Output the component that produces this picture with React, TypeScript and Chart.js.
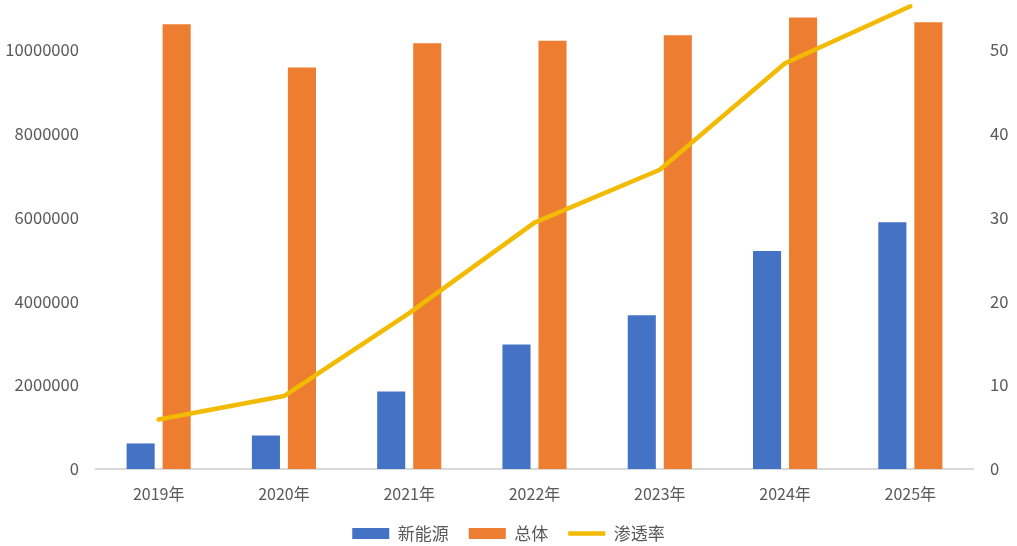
import React, { useEffect, useRef } from "react";
import { Chart, registerables } from "chart.js";

Chart.register(...registerables);

const years = ["2019年", "2020年", "2021年", "2022年", "2023年", "2024年", "2025年"];
const newEnergy = [610000, 800000, 1850000, 2970000, 3670000, 5200000, 5890000];
const total = [10610000, 9580000, 10160000, 10220000, 10350000, 10770000, 10660000];
const rate = [5.9, 8.7, 18.6, 29.4, 35.7, 48.4, 55.2];
const leftTicks = [0, 2000000, 4000000, 6000000, 8000000, 10000000];
const rightTicks = [0, 10, 20, 30, 40, 50];

const FONT = "'Noto Sans CJK SC', 'Noto Sans', sans-serif";

const App = () => {
  const chartRef: any = useRef(null);
  const chartInstance: any = useRef(null);

  useEffect(() => {
    document.body.style.margin = "0";
    if (chartRef.current) {
      const ctx = chartRef.current.getContext("2d");
      chartInstance.current = new Chart(ctx, {
        type: "bar",
        data: {
          labels: years,
          datasets: [
            {
              type: "line",
              label: "渗透率",
              data: rate,
              yAxisID: "y1",
              borderColor: "#F2BA00",
              backgroundColor: "#F2BA00",
              borderWidth: 4.5,
              borderCapStyle: "round",
              borderJoinStyle: "round",
              pointRadius: 0,
              pointStyle: "line",
              tension: 0,
              clip: false,
              order: 0,
            } as any,
            {
              label: "新能源",
              data: newEnergy,
              yAxisID: "y",
              backgroundColor: "#4472C4",
              pointStyle: "rect",
              categoryPercentage: 0.575,
              barPercentage: 0.78,
              order: 1,
            } as any,
            {
              label: "总体",
              data: total,
              yAxisID: "y",
              backgroundColor: "#ED7D31",
              pointStyle: "rect",
              categoryPercentage: 0.575,
              barPercentage: 0.78,
              order: 1,
            } as any,
          ],
        },
        options: {
          responsive: false,
          animation: false,
          layout: { padding: 0 },
          plugins: {
            tooltip: { enabled: false },
            legend: {
              position: "bottom",
              maxHeight: 41,
              labels: {
                usePointStyle: true,
                pointStyleWidth: 37,
                boxWidth: 37,
                boxHeight: 11,
                padding: 20,
                color: "#595959",
                font: { family: FONT, size: 17 },
                sort: (a: any, b: any) => {
                  const rank: any = { "新能源": 0, "总体": 1, "渗透率": 2 };
                  return rank[a.text] - rank[b.text];
                },
              },
            } as any,
          },
          scales: {
            x: {
              grid: { display: false, drawTicks: false },
              border: { display: true, color: "#D9D9D9", width: 2 },
              ticks: {
                color: "#595959",
                padding: 15,
                font: { family: FONT, size: 16 },
              },
              afterFit: (scale: any) => {
                scale.height = 36;
              },
            },
            y: {
              position: "left",
              min: 0,
              max: 11190000,
              grid: { display: false, drawTicks: false },
              border: { display: false },
              afterBuildTicks: (scale: any) => {
                scale.ticks = leftTicks.map((v) => ({ value: v }));
              },
              ticks: {
                padding: 17,
                color: "#595959",
                font: { family: FONT, size: 16.6 },
                callback: (v: any) => String(v),
              },
              afterFit: (scale: any) => {
                scale.width = 96;
                scale.paddingTop = 0;
                scale.paddingBottom = 0;
              },
            },
            y1: {
              position: "right",
              min: 0,
              max: 55.95,
              grid: { display: false, drawTicks: false },
              border: { display: false },
              afterBuildTicks: (scale: any) => {
                scale.ticks = rightTicks.map((v) => ({ value: v }));
              },
              ticks: {
                padding: 17,
                color: "#595959",
                font: { family: FONT, size: 16.6 },
                callback: (v: any) => String(v),
              },
              afterFit: (scale: any) => {
                scale.width = 44;
                scale.paddingTop = 0;
                scale.paddingBottom = 0;
              },
            },
          },
        },
      });
    }

    return () => {
      if (chartInstance.current) {
        chartInstance.current.destroy();
      }
    };
  }, []);

  return (
    <div style={{ width: 1017, height: 546, background: "#fff" }}>
      <canvas ref={chartRef} width={1017} height={546}></canvas>
    </div>
  );
};

export default App;
